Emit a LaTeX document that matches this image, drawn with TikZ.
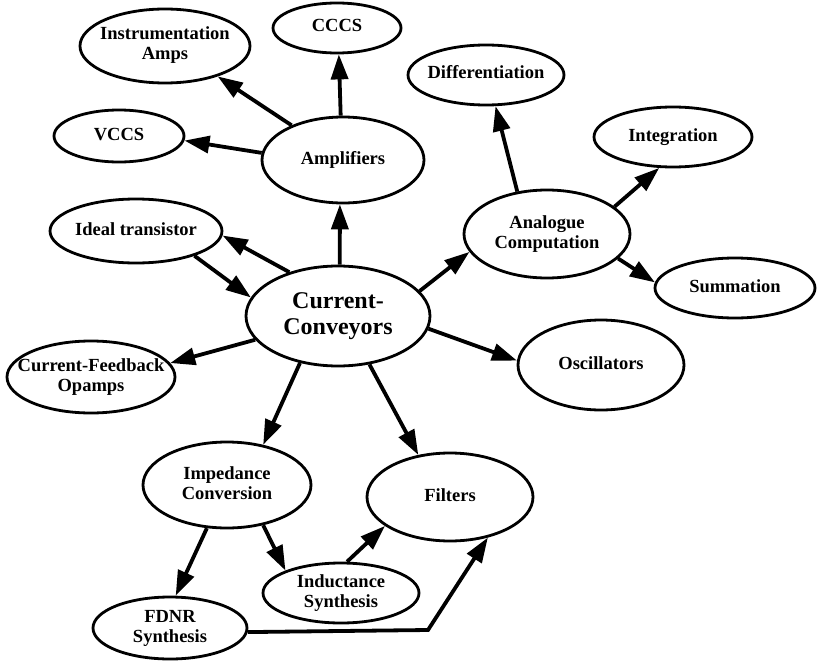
\documentclass[tikz,border=0pt]{standalone}
\usepackage{fontspec}
\setmainfont{Liberation Serif}
\usetikzlibrary{arrows.meta,shapes.geometric}
\newcommand{\nlbl}[1]{\makebox[0pt]{\begin{tabular}{@{}c@{}}#1\end{tabular}}}
\begin{document}
\begin{tikzpicture}[x=1pt,y=-1pt,
  bub/.style={draw, ellipse, line width=2.8pt, inner sep=0pt,
    font=\bfseries\fontsize{18.5}{20}\selectfont},
  con/.style={line width=3.8pt, line join=miter, -{Triangle[length=25pt,width=17pt]}}]
\useasboundingbox (0,0) rectangle (817,661);
% nodes
\node[bub, minimum width=170pt, minimum height=74pt] (IA) at (165,46) {\nlbl{Instrumentation\\Amps}};
\node[bub, minimum width=128pt, minimum height=50pt] (CCCS) at (337,28) {\nlbl{CCCS}};
\node[bub, minimum width=130pt, minimum height=52pt] (VCCS) at (119,136) {\nlbl{VCCS}};
\node[bub, minimum width=162pt, minimum height=86pt] (AMP) at (343,160) {\nlbl{Amplifiers}};
\node[bub, minimum width=172pt, minimum height=64pt] (IT) at (136,231) {\nlbl{Ideal transistor}};
\node[bub, minimum width=184pt, minimum height=100pt,
  font=\bfseries\fontsize{24}{26}\selectfont] (CC) at (338,316) {\nlbl{Current-\\Conveyors}};
\node[bub, minimum width=168pt, minimum height=72pt] (CFO) at (91,377) {\nlbl{Current-Feedback\\Opamps}};
\node[bub, minimum width=156pt, minimum height=60pt] (DIF) at (486,75) {\nlbl{Differentiation}};
\node[bub, minimum width=158pt, minimum height=60pt] (INT) at (673,137) {\nlbl{Integration}};
\node[bub, minimum width=166pt, minimum height=88pt] (AC) at (547,234) {\nlbl{Analogue\\Computation}};
\node[bub, minimum width=160pt, minimum height=60pt] (SUM) at (735,288) {\nlbl{Summation}};
\node[bub, minimum width=166pt, minimum height=90pt] (OSC) at (601,365) {\nlbl{Oscillators}};
\node[bub, minimum width=168pt, minimum height=86pt] (IMP) at (227,485) {\nlbl{Impedance\\Conversion}};
\node[bub, minimum width=166pt, minimum height=88pt] (FIL) at (450,497) {\nlbl{Filters}};
\node[bub, minimum width=156pt, minimum height=60pt] (IND) at (341,593) {\nlbl{Inductance\\Synthesis}};
\node[bub, minimum width=154pt, minimum height=62pt] (FDNR) at (170,628) {\nlbl{FDNR\\Synthesis}};
\coordinate (bend) at (428,630);
% connectors
\draw[con] (AMP.146) -- (IA.-30);
\draw[con] (AMP.93) -- (CCCS.-86);
\draw[con] (AMP.175) -- (VCCS.-4);
\draw[con] (CC.88) -- (AMP.-94);
\draw[con] (CC.138) -- (IT.-3);
\draw[con] (IT.-23) -- (CC.168);
\draw[con] (CC.196) -- (CFO.10);
\draw[con] (CC.17) -- (AC.193);
\draw[con] (CC.-8) -- (OSC.177);
\draw[con] (CC.-129) -- (IMP.48);
\draw[con] (CC.-57) -- (FIL.127);
\draw[con] (AC.125) -- (DIF.-73);
\draw[con] (AC.22) -- (INT.-114);
\draw[con] (AC.-19) -- (SUM.176);
\draw[con] (IMP.-115) -- (FDNR.80);
\draw[con] (IMP.-48) -- (IND.158);
\draw[con] (IND.79) -- (FIL.204);
\draw[con] (FDNR.-3) -- (bend) -- (FIL.-47);
\end{tikzpicture}
\end{document}
